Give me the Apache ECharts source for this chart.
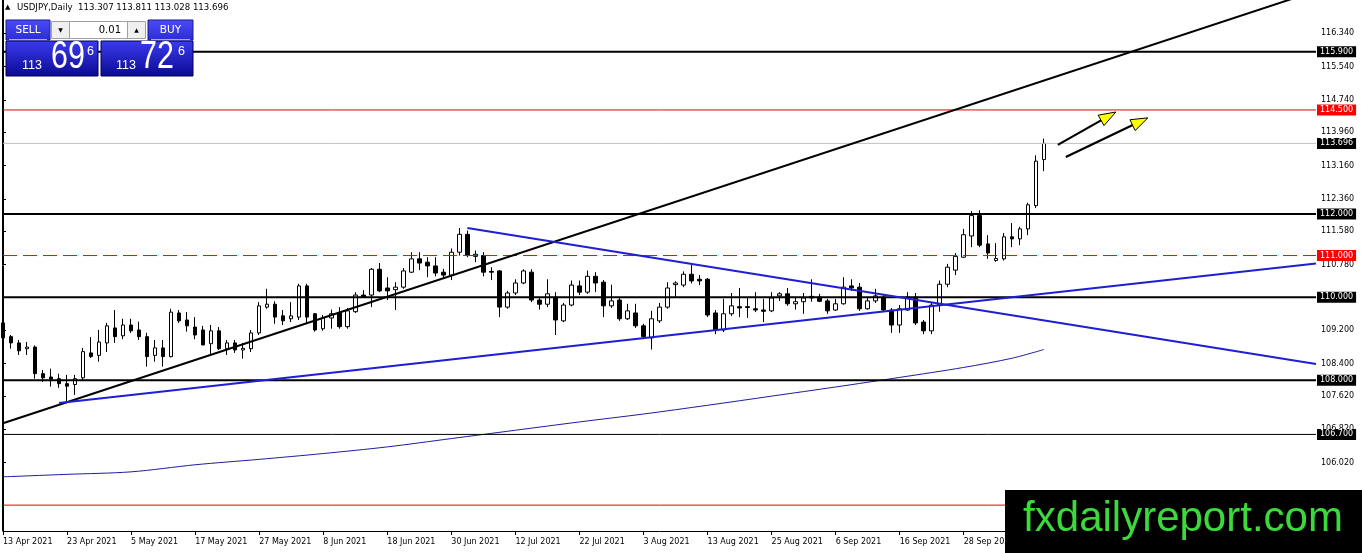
<!DOCTYPE html>
<html><head><meta charset="utf-8">
<script src="https://cdn.jsdelivr.net/npm/echarts/dist/echarts.min.js"></script>
<style>html,body{margin:0;padding:0;background:#fff}#c{width:1362px;height:553px}</style>
</head><body><div id="c"></div>
<script>
// ---- data ----
const symbolName = 'USDJPY,Daily';
const tickLabels = ['13 Apr 2021','23 Apr 2021','5 May 2021','17 May 2021','27 May 2021','8 Jun 2021','18 Jun 2021','30 Jun 2021','12 Jul 2021','22 Jul 2021','3 Aug 2021','13 Aug 2021','25 Aug 2021','6 Sep 2021','16 Sep 2021','28 Sep 2021'];
// [open, close, low, high]
const ohlc = [
[109.38,109.02,108.95,109.74],[109.05,108.90,108.76,109.09],[108.90,108.71,108.61,108.97],[108.76,108.80,108.61,108.92],
[108.80,108.16,108.04,108.84],[108.16,108.06,107.96,108.25],[108.08,108.03,107.85,108.28],[108.04,107.92,107.82,108.16],
[107.92,107.86,107.49,108.13],[107.90,108.04,107.65,108.13],[108.06,108.69,108.01,108.78],[108.66,108.57,108.54,109.04],
[108.60,108.92,108.45,109.21],[108.90,109.31,108.68,109.38],[109.26,109.05,108.90,109.69],[109.07,109.33,108.99,109.48],
[109.33,109.19,109.14,109.48],[109.21,109.05,108.97,109.41],[109.05,108.57,108.33,109.14],[108.60,108.78,108.45,108.97],
[108.78,108.57,108.33,108.97],[108.57,109.64,108.55,109.72],[109.62,109.43,109.38,109.69],[109.45,109.31,109.17,109.64],
[109.28,109.09,108.99,109.52],[109.21,108.85,108.85,109.31],[108.88,109.19,108.61,109.33],[109.19,108.76,108.73,109.28],
[108.76,108.90,108.61,108.97],[108.90,108.73,108.66,108.97],[108.73,108.77,108.52,108.90],[108.76,109.14,108.68,109.21],
[109.14,109.79,109.09,109.88],[109.76,109.83,109.72,110.20],[109.83,109.52,109.36,109.90],[109.55,109.43,109.33,109.69],
[109.48,109.55,109.40,109.88],[109.52,110.27,109.45,110.32],[110.27,109.52,109.38,110.32],[109.60,109.21,109.17,109.62],
[109.24,109.50,109.19,109.57],[109.50,109.60,109.24,109.70],[109.62,109.29,109.24,109.76],[109.29,109.67,109.24,109.74],
[109.65,110.05,109.62,110.12],[110.05,110.00,109.98,110.17],[110.05,110.67,109.76,110.70],[110.67,110.15,110.12,110.82],
[110.22,110.15,109.93,110.48],[110.18,110.24,109.69,110.36],[110.24,110.63,110.20,110.70],[110.60,110.92,110.58,111.08],
[110.92,110.82,110.65,111.08],[110.84,110.75,110.48,110.96],[110.75,110.58,110.50,110.96],[110.60,110.53,110.45,110.68],
[110.53,111.08,110.41,111.17],[111.08,111.51,111.00,111.66],[111.51,111.00,110.96,111.60],[110.98,111.03,110.84,111.12],
[111.00,110.60,110.50,111.08],[110.62,110.60,110.41,110.72],[110.63,109.76,109.52,110.65],[109.76,110.10,109.72,110.15],
[110.10,110.34,110.05,110.43],[110.34,110.63,110.31,110.67],[110.60,109.93,109.88,110.67],[109.93,109.83,109.70,110.00],
[109.83,110.08,109.76,110.43],[110.00,109.45,109.09,110.12],[109.43,109.81,109.40,109.86],[109.81,110.29,109.78,110.40],
[110.27,110.12,110.05,110.40],[110.12,110.50,110.08,110.64],[110.50,110.34,110.12,110.60],[110.36,109.79,109.52,110.41],
[109.79,109.91,109.74,110.30],[109.93,109.48,109.43,109.98],[109.48,109.67,109.45,109.84],[109.62,109.31,109.26,109.84],
[109.31,109.05,108.99,109.36],[109.02,109.48,108.74,109.67],[109.43,109.76,109.38,109.86],[109.76,110.22,109.72,110.36],
[110.30,110.34,110.00,110.38],[110.29,110.55,110.24,110.62],[110.55,110.39,110.33,110.77],[110.43,110.39,110.29,110.53],
[110.43,109.57,109.52,110.46],[109.62,109.21,109.11,109.69],[109.21,109.60,109.16,109.96],[109.60,109.79,109.55,110.10],
[109.77,109.74,109.52,110.22],[109.77,109.75,109.50,109.98],[109.72,109.69,109.64,110.12],[109.69,109.66,109.40,109.96],
[109.67,109.98,109.64,110.12],[110.03,110.08,109.91,110.12],[110.08,109.84,109.79,110.22],[109.84,109.89,109.70,109.98],
[109.89,109.98,109.60,110.10],[110.02,109.98,109.89,110.43],[110.00,109.90,109.88,110.08],[109.91,109.67,109.60,109.96],
[109.69,109.84,109.67,109.96],[109.84,110.24,109.82,110.48],[110.27,110.22,110.15,110.43],[110.24,109.72,109.67,110.34],
[109.72,109.91,109.70,109.98],[109.91,110.03,109.86,110.20],[110.00,109.69,109.64,110.05],[109.69,109.33,109.14,109.74],
[109.33,109.72,109.14,109.81],[109.69,110.00,109.67,110.12],[110.00,109.38,109.33,110.10],[109.40,109.19,109.11,109.45],
[109.19,109.81,109.11,109.88],[109.81,110.31,109.65,110.40],[110.31,110.72,110.24,110.80],[110.65,110.98,110.53,111.06],
[110.96,111.50,110.94,111.64],[111.47,111.96,111.20,112.07],[111.96,111.25,111.20,112.09],[111.28,111.06,110.92,111.49],
[110.88,110.93,110.85,111.30],[110.92,111.45,110.88,111.54],[111.45,111.40,111.20,111.78],[111.40,111.64,111.25,111.69],
[111.64,112.22,111.49,112.27],[112.20,113.27,112.14,113.41],[113.307,113.696,113.028,113.811]
];
const maIdx = [0,8,16,24,32,40,48,56,64,72,80,88,96,104,112,120,126,130];
const maVal = [105.68,105.74,105.80,105.97,106.10,106.24,106.40,106.60,106.80,107.00,107.19,107.40,107.62,107.84,108.07,108.31,108.53,108.74];
// trend lines: [xIndex1, price1, xIndex2, price2]
const blackTrend = [0,106.97,164,117.36];
const blueSupport = [7,107.455,164,110.81];
const blueResist = [58,111.66,164,108.39];
// arrows: [xIndex1, price1, xIndex2, price2]
const arrows = [[131.75,113.66,139,114.45],[132.75,113.37,143,114.31]];
const levels = [115.9,114.5,113.696,112.0,111.0,110.0,108.0,106.7,105.0];
const yTicks = [116.34,115.54,114.74,113.96,113.16,112.36,111.58,110.78,110.0,109.2,108.4,107.62,106.82,106.02];
const bidPrice = 113.696, askPrice = 113.726;
const nSlots = 165;

// ---- styles ----
const levelColor = ['#000000','#e60000','#c0c0c0','#000000','#ff0000','#000000','#000000','#000000','#e60000'];
const levelBox =   ['#000000','#ff0000','#000000','#000000','#ff0000','#000000','#000000','#000000','#ff0000'];
const levelWidth = [2,1,1,2,1,2,2,1,1];
const levelDash =  [null,null,null,null,[14,6],null,null,null,null];
const FONT = "'DejaVu Sans', sans-serif";
const ARIAL = "'Liberation Sans', Arial, sans-serif";

const slots = Array.from({length:nSlots},(_,i)=>String(i));
const last = ohlc[ohlc.length-1];
const headerText = symbolName + '  ' + [last[0],last[3],last[2],last[1]].map(v=>v.toFixed(3)).join(' ');

function splitPrice(p){
  const s = p.toFixed(3);
  return {big: s.slice(0,3), mid: s.slice(4,6), pip: s.slice(6)};
}
const bidP = splitPrice(bidPrice), askP = splitPrice(askPrice);

const levelSeries = levels.map((v,i)=>({
  type:'line', xAxisIndex:1, yAxisIndex:0, data:[[0,v],[nSlots-1,v]], silent:true, z:3,
  symbol:'none', color:levelColor[i],
  lineStyle:{color:levelColor[i], width:levelWidth[i], type: levelDash[i] || 'solid'},
  endLabel:{show:true, distance:1, formatter: v.toFixed(3), color:'#fff',
    backgroundColor:levelBox[i], padding:[2,3,1,3], fontSize:8, fontFamily:FONT}
}));

function seg(a){ return [[a[0],a[1]],[a[2],a[3]]]; }
function lineSeries(d, color, width){
  return {type:'line', xAxisIndex:1, yAxisIndex:0, data:seg(d), symbol:'none', silent:true,
    lineStyle:{color:color, width:width}, clip:true, z:4};
}

const grad = (c1,c2)=>({type:'linear',x:0,y:0,x2:0,y2:1,colorStops:[{offset:0,color:c1},{offset:1,color:c2}]});
const btnGrad = grad('#4d4df7','#2a2ad8');
const boxGrad = grad('#3b3bef','#0a0a92');
const white = '#fff';

const panel = [
  {type:'text', left:5, top:4, style:{text:'\u25B2', fontSize:7, fontFamily:FONT, fill:'#000'}},
  {type:'text', left:17, top:3, style:{text:headerText, fontSize:8.6, fontFamily:FONT, fill:'#000'}},
  {type:'rect', shape:{x:6,y:20,width:44,height:20}, style:{fill:btnGrad, stroke:'#1a1a90', lineWidth:1}},
  {type:'text', x:28, y:30, style:{text:'SELL', fontSize:10.5, fontFamily:FONT, fill:white, align:'center', verticalAlign:'middle'}},
  {type:'line', shape:{x1:9,y1:39.5,x2:47,y2:39.5}, style:{stroke:'#a8a8f5', lineWidth:1}},
  {type:'rect', shape:{x:51.5,y:21.5,width:18,height:17}, style:{fill:'#f0f0f0', stroke:'#a0a0a0', lineWidth:1}},
  {type:'text', x:60.5, y:30, style:{text:'\u25BC', fontSize:6, fontFamily:FONT, fill:'#000', align:'center', verticalAlign:'middle'}},
  {type:'rect', shape:{x:69.5,y:21.5,width:58,height:17}, style:{fill:'#fff', stroke:'#a0a0a0', lineWidth:1}},
  {type:'text', x:121, y:30, style:{text:'0.01', fontSize:10, fontFamily:FONT, fill:'#000', align:'right', verticalAlign:'middle'}},
  {type:'rect', shape:{x:127.5,y:21.5,width:18,height:17}, style:{fill:'#f0f0f0', stroke:'#a0a0a0', lineWidth:1}},
  {type:'text', x:136.5, y:30, style:{text:'\u25B2', fontSize:6, fontFamily:FONT, fill:'#000', align:'center', verticalAlign:'middle'}},
  {type:'rect', shape:{x:148,y:20,width:45,height:20}, style:{fill:btnGrad, stroke:'#1a1a90', lineWidth:1}},
  {type:'text', x:170.5, y:30, style:{text:'BUY', fontSize:10.5, fontFamily:FONT, fill:white, align:'center', verticalAlign:'middle'}},
  {type:'line', shape:{x1:151,y1:39.5,x2:190,y2:39.5}, style:{stroke:'#a8a8f5', lineWidth:1}},
  {type:'rect', shape:{x:6,y:41,width:92,height:35}, style:{fill:boxGrad, stroke:'#00005a', lineWidth:1}},
  {type:'rect', shape:{x:101,y:41,width:92,height:35}, style:{fill:boxGrad, stroke:'#00005a', lineWidth:1}},
  {type:'text', x:22, y:66, style:{text:bidP.big, fontSize:12.5, fontFamily:ARIAL, fill:white, verticalAlign:'middle'}},
  {type:'text', x:51, y:57, scaleX:0.78, style:{text:bidP.mid, fontSize:39, fontFamily:ARIAL, fill:white, verticalAlign:'middle'}},
  {type:'text', x:87, y:52, style:{text:bidP.pip, fontSize:12.5, fontFamily:ARIAL, fill:white, verticalAlign:'middle'}},
  {type:'text', x:116, y:66, style:{text:askP.big, fontSize:12.5, fontFamily:ARIAL, fill:white, verticalAlign:'middle'}},
  {type:'text', x:140, y:57, scaleX:0.78, style:{text:askP.mid, fontSize:39, fontFamily:ARIAL, fill:white, verticalAlign:'middle'}},
  {type:'text', x:178, y:52, style:{text:askP.pip, fontSize:12.5, fontFamily:ARIAL, fill:white, verticalAlign:'middle'}},
  {type:'line', shape:{x1:2.5,y1:0,x2:2.5,y2:531}, style:{stroke:'#000', lineWidth:1}},
  {type:'rect', shape:{x:1005,y:490,width:357,height:63}, style:{fill:'#000'}},
  {type:'text', x:1183, y:519, style:{text:'fxdailyreport.com', fontSize:42, fontFamily:ARIAL, fill:'#3bd93b', align:'center', verticalAlign:'middle'}}
].map(g=>Object.assign({z:100, silent:true}, g));

const chart = echarts.init(document.getElementById('c'), null, {renderer:'canvas'});
chart.setOption({
  animation:false,
  backgroundColor:'#fff',
  grid:{left:3, right:46, top:0, bottom:22, show:false},
  xAxis:[
    {type:'category', data:slots, boundaryGap:false,
      axisLine:{show:true, lineStyle:{color:'#000', width:1}},
      axisTick:{show:true, interval:7, length:4, lineStyle:{color:'#000'}},
      axisLabel:{show:true, interval:7, align:'left', margin:7, fontSize:8, fontFamily:FONT, color:'#000',
        formatter:(v,i)=> (i%8===0 && tickLabels[i/8]) ? tickLabels[i/8] : ''},
      splitLine:{show:false}},
    {type:'value', min:0, max:nSlots-1, show:false}
  ],
  yAxis:[{type:'value', position:'right', min:104.378, max:117.143, scale:true,
    axisLine:{show:true, lineStyle:{color:'#000', width:1}},
    axisTick:{show:true, length:3, customValues:yTicks, lineStyle:{color:'#000'}},
    axisLabel:{show:true, customValues:yTicks, margin:5, fontSize:8, fontFamily:FONT, color:'#000', formatter:v=>v.toFixed(3)},
    splitLine:{show:false}}],
  series:[
    {type:'line', xAxisIndex:1, data:maIdx.map((x,i)=>[x,maVal[i]]), symbol:'none', smooth:0.3, silent:true,
      lineStyle:{color:'#1c1ca0', width:1}, z:2},
    {type:'candlestick', xAxisIndex:0, yAxisIndex:0, data:ohlc, barWidth:4, silent:true,
      itemStyle:{color:'#fff', color0:'#000', borderColor:'#000', borderColor0:'#000', borderWidth:1}, z:2}
  ].concat(levelSeries).concat([
    lineSeries(blackTrend,'#000',2),
    lineSeries(blueSupport,'#1e1ed2',2),
    lineSeries(blueResist,'#1e1ed2',2),
    {type:'custom', xAxisIndex:1, yAxisIndex:0, data:arrows, silent:true, z:5,
      encode:{x:[0,2], y:[1,3]},
      renderItem:function(params, api){
        const p1 = api.coord([api.value(0), api.value(1)]);
        const p2 = api.coord([api.value(2), api.value(3)]);
        const dx = p2[0]-p1[0], dy = p2[1]-p1[1], len = Math.hypot(dx,dy);
        const ux = dx/len, uy = dy/len, hl = 17, hw = 6;
        const bx = p2[0]-ux*hl, by = p2[1]-uy*hl, nx = -uy, ny = ux;
        return {type:'group', children:[
          {type:'line', shape:{x1:p1[0],y1:p1[1],x2:bx+ux*2,y2:by+uy*2}, style:{stroke:'#000', lineWidth:2.2}},
          {type:'polygon', shape:{points:[[p2[0],p2[1]],[bx+nx*hw,by+ny*hw],[bx-nx*hw,by-ny*hw]]},
            style:{fill:'#ffff00', stroke:'#000', lineWidth:1}}
        ]};
      }}
  ]),
  graphic: panel
});
</script></body></html>
